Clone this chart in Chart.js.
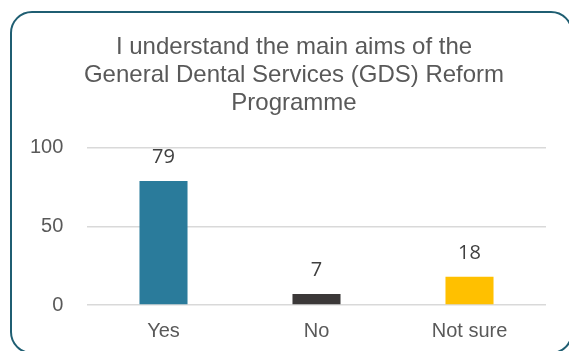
<!DOCTYPE html>
<html>
<head>
<meta charset="utf-8">
<script src="https://cdn.jsdelivr.net/npm/chart.js@4"></script>
<style>
  html, body { margin: 0; padding: 0; background: #fff; overflow: hidden; }
  #wrap { position: relative; width: 569px; height: 351px; }
  #frame {
    position: absolute; left: 10px; top: 11px; width: 563px; height: 343px;
    box-sizing: border-box; border: 2.5px solid #1f5e72; border-radius: 22px;
  }
  canvas { position: absolute; left: 0; top: 0; }
</style>
</head>
<body>
<div id="wrap">
  <div id="frame"></div>
  <canvas id="gdsChart" width="569" height="351"></canvas>
</div>
<script>
const titleLines = ["I understand the main aims of the", "General Dental Services (GDS) Reform", "Programme"];
const answers = ["Yes", "No", "Not sure"];
const responses = [79, 7, 18];
const barColours = ["#2a7b9b", "#3b3838", "#ffc000"];
const yTicks = [0, 50, 100];

// value above each bar
const valueLabels = {
  id: "valueLabels",
  afterDatasetsDraw(chart) {
    const ctx = chart.ctx;
    const meta = chart.getDatasetMeta(0);
    ctx.save();
    ctx.font = "20px 'Open Sans'";
    ctx.fillStyle = "#404040";
    ctx.textAlign = "center";
    ctx.textBaseline = "alphabetic";
    meta.data.forEach((bar, i) => {
      ctx.fillText(String(responses[i]), bar.x, bar.y - 18);
    });
    ctx.restore();
  }
};

// centre the title on the framed box rather than the canvas
const titleShift = {
  id: "titleShift",
  afterLayout(chart) {
    const t = chart.titleBlock;
    if (t) { t.left = 42; t.right = 546; }
  }
};

new Chart(document.getElementById("gdsChart"), {
  type: "bar",
  data: {
    labels: answers,
    datasets: [{
      data: responses,
      backgroundColor: barColours,
      categoryPercentage: 1,
      barPercentage: 0.314
    }]
  },
  options: {
    responsive: false,
    animation: false,
    layout: { padding: { left: 0, right: 23, top: 0, bottom: 0 } },
    plugins: {
      legend: { display: false },
      tooltip: { enabled: false },
      title: {
        display: true,
        text: titleLines,
        color: "#595959",
        font: { family: "'Liberation Sans', Arial", size: 24, weight: "normal", lineHeight: 1.18 },
        padding: { top: 33, bottom: 30 }
      }
    },
    scales: {
      x: {
        grid: { display: false, drawTicks: false },
        border: { display: false },
        ticks: { color: "#595959", padding: 14, font: { family: "'Liberation Sans', Arial", size: 20 } },
        afterFit: s => { s.height = 46; }
      },
      y: {
        min: 0,
        max: 100,
        afterBuildTicks: s => { s.ticks = yTicks.map(v => ({ value: v })); },
        grid: { color: "#d9d9d9", lineWidth: 1.5, drawTicks: false },
        border: { display: false },
        ticks: { color: "#595959", padding: 23.7, font: { family: "'Liberation Sans', Arial", size: 20 } },
        afterFit: s => { s.width = 87; }
      }
    }
  },
  plugins: [valueLabels, titleShift]
});
</script>
</body>
</html>
